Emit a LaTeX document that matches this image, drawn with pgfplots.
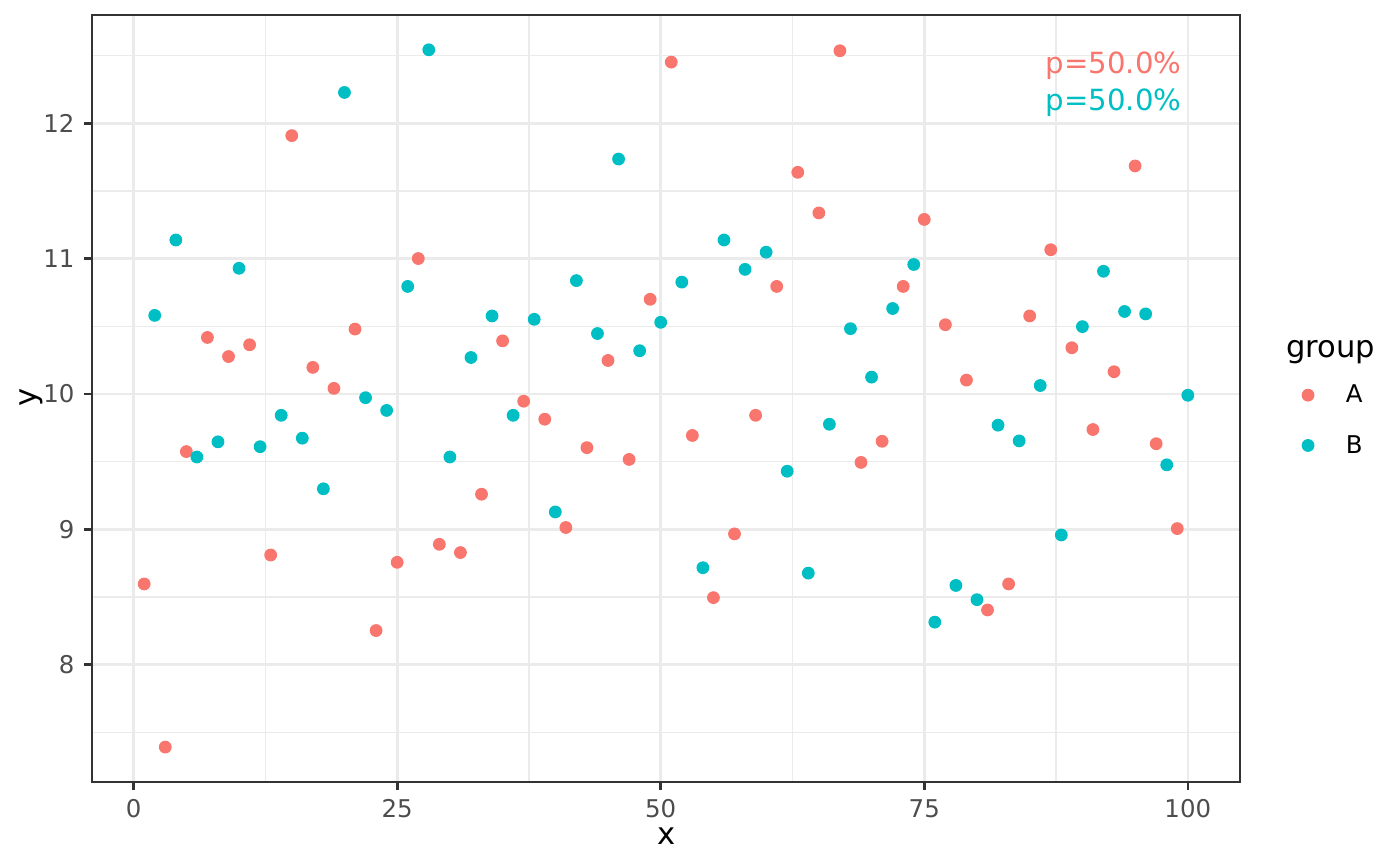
\documentclass[border=0pt]{standalone}
\usepackage{fontspec}
\setmainfont{DejaVu Sans}
\usepackage{pgfplots}
\pgfplotsset{compat=1.18}
\definecolor{cA}{HTML}{F8766D}
\definecolor{cB}{HTML}{00BFC4}
\definecolor{gridc}{HTML}{EBEBEB}
\definecolor{g20}{HTML}{333333}
\definecolor{g30}{HTML}{4D4D4D}
\pgfplotsset{dotlegend/.style={legend image code/.code={\draw[##1] plot coordinates {(0pt,0pt)};}}}
\pgfplotstableread{
x y
1 8.597
3 7.392
5 9.575
7 10.418
9 10.277
11 10.364
13 8.811
15 11.909
17 10.197
19 10.042
21 10.480
23 8.253
25 8.757
27 11.001
29 8.890
31 8.829
33 9.260
35 10.393
37 9.947
39 9.814
41 9.014
43 9.604
45 10.248
47 9.517
49 10.700
51 12.452
53 9.694
55 8.496
57 8.967
59 9.843
61 10.795
63 11.638
65 11.338
67 12.536
69 9.495
71 9.651
73 10.795
75 11.290
77 10.512
79 10.103
81 8.405
83 8.597
85 10.577
87 11.066
89 10.342
91 9.738
93 10.165
95 11.685
97 9.633
99 9.006
}\dataA
\pgfplotstableread{
x y
2 10.581
4 11.138
6 9.535
8 9.647
10 10.929
12 9.611
14 9.843
16 9.674
18 9.300
20 12.228
22 9.973
24 9.879
26 10.795
28 12.543
30 9.535
32 10.270
34 10.577
36 9.843
38 10.552
40 9.129
42 10.838
44 10.447
46 11.736
48 10.320
50 10.530
52 10.827
54 8.717
56 11.138
58 10.921
60 11.048
62 9.430
64 8.677
66 9.777
68 10.483
70 10.125
72 10.632
74 10.957
76 8.315
78 8.586
80 8.481
82 9.770
84 9.654
86 10.063
88 8.959
90 10.498
92 10.907
94 10.610
96 10.592
98 9.477
100 9.991
}\dataB
\begin{document}
\begin{tikzpicture}
\path[use as bounding box] (0,0) rectangle (504pt,311.76pt);
\begin{axis}[
  at={(33.12pt,30.24pt)}, anchor=south west,
  scale only axis, width=413.28pt, height=276.12pt,
  xmin=-3.95, xmax=104.95, ymin=7.134, ymax=12.80,
  xtick={0,25,50,75,100}, ytick={8,9,10,11,12},
  minor xtick={12.5,37.5,62.5,87.5},
  minor ytick={7.5,8.5,9.5,10.5,11.5,12.5},
  grid=both,
  major grid style={color=gridc, line width=0.95pt},
  minor grid style={color=gridc, line width=0.5pt},
  minor tick length=0pt,
  major tick length=2.75pt,
  tick align=outside,
  xtick pos=lower, ytick pos=left,
  tick style={color=g20, line width=0.95pt},
  axis line style={color=g20, line width=0.75pt},
  ticklabel style={font=\fontsize{8.8}{10}\selectfont, text=g30},
  /pgf/number format/assume math mode=true,
  clip=false,
  legend cell align=left,
  legend style={draw=none, fill=none, inner sep=0pt, outer sep=0pt,
    at={(1.0542,0.5177)}, anchor=north west,
    row sep=10.2pt, column sep=11.5pt,
    font=\fontsize{8.8}{10}\selectfont,
    nodes={inner sep=0pt, anchor=mid west}},
]
\addplot[only marks, mark=*, mark size=2.1pt, color=cA, dotlegend]
  table[x=x,y=y] {\dataA};
\addlegendentry{A}
\addplot[only marks, mark=*, mark size=2.1pt, color=cB, dotlegend]
  table[x=x,y=y] {\dataB};
\addlegendentry{B}
\node[anchor=base east, inner sep=0pt, text=cA, font=\fontsize{10.5}{12}\selectfont]
  at (axis cs:99.45,12.367) {p=50.0\%};
\node[anchor=base east, inner sep=0pt, text=cB, font=\fontsize{10.5}{12}\selectfont]
  at (axis cs:99.45,12.091) {p=50.0\%};
\end{axis}
\node[font=\fontsize{11}{13}\selectfont] at (239.8pt,10.8pt) {x};
\node[font=\fontsize{11}{13}\selectfont, rotate=90] at (11.2pt,168.5pt) {y};
\node[font=\fontsize{11}{13}\selectfont, anchor=west, inner sep=0pt] at (462.8pt,185.1pt) {group};
\end{tikzpicture}
\end{document}
